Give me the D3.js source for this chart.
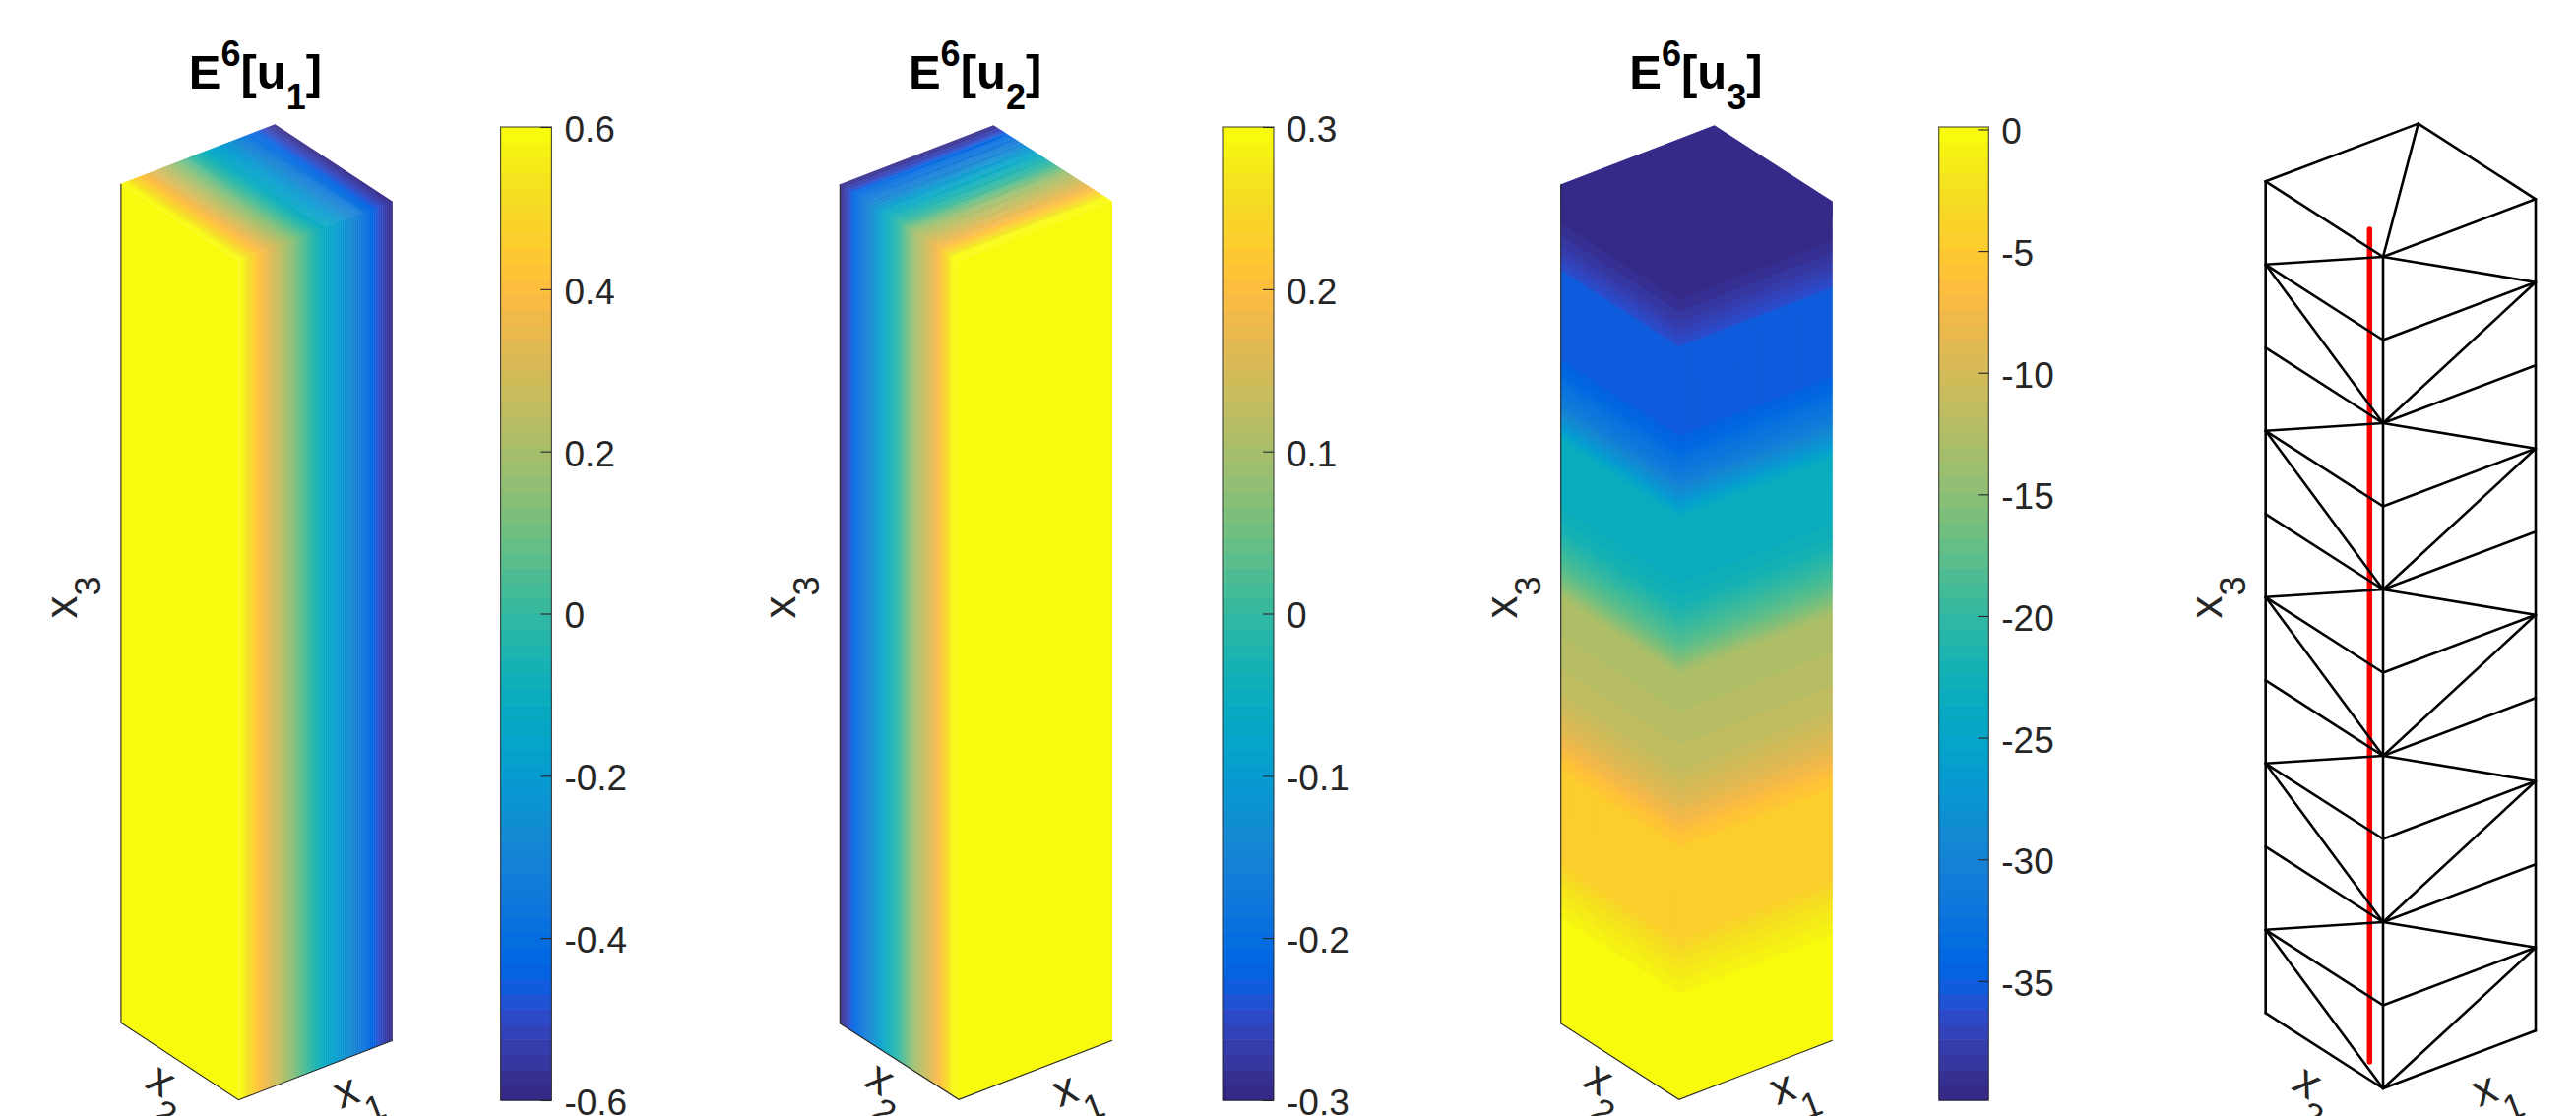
<!DOCTYPE html>
<html>
<head>
<meta charset="utf-8">
<script src="https://cdn.jsdelivr.net/npm/d3@7"></script>
<style>html,body{margin:0;padding:0;background:#fff;overflow:hidden}svg{display:block}</style>
</head>
<body>
<script>
// ---- colormap (64 levels) ----
const parula = [[.2081,.1663,.5292],[.2116,.1898,.5777],[.2123,.2138,.6270],[.2081,.2386,.6771],[.1959,.2645,.7279],[.1707,.2919,.7792],[.1253,.3242,.8303],[.0591,.3598,.8683],[.0117,.3875,.8820],[.0060,.4086,.8828],[.0165,.4266,.8786],[.0329,.4430,.8720],[.0498,.4586,.8641],[.0629,.4737,.8554],[.0723,.4887,.8467],[.0779,.5040,.8384],[.0793,.5200,.8312],[.0749,.5375,.8263],[.0641,.5570,.8240],[.0488,.5772,.8228],[.0343,.5966,.8199],[.0265,.6137,.8135],[.0239,.6287,.8038],[.0231,.6418,.7913],[.0228,.6535,.7768],[.0267,.6642,.7607],[.0384,.6743,.7436],[.0590,.6838,.7254],[.0843,.6928,.7062],[.1133,.7015,.6859],[.1453,.7098,.6646],[.1801,.7177,.6424],[.2178,.7250,.6193],[.2586,.7317,.5954],[.3022,.7376,.5712],[.3482,.7424,.5473],[.3953,.7459,.5244],[.4420,.7481,.5033],[.4871,.7491,.4840],[.5300,.7491,.4661],[.5709,.7485,.4494],[.6099,.7473,.4337],[.6473,.7456,.4188],[.6834,.7435,.4044],[.7184,.7411,.3905],[.7525,.7384,.3768],[.7858,.7356,.3633],[.8185,.7327,.3498],[.8507,.7299,.3360],[.8824,.7274,.3217],[.9139,.7258,.3063],[.9450,.7261,.2886],[.9739,.7314,.2666],[.9938,.7455,.2403],[.9990,.7653,.2164],[.9955,.7861,.1967],[.9880,.8066,.1794],[.9789,.8271,.1633],[.9697,.8481,.1475],[.9626,.8705,.1309],[.9589,.8949,.1132],[.9598,.9218,.0948],[.9661,.9514,.0755],[.9763,.9831,.0538]]
  .map(c => d3.rgb(c[0]*255, c[1]*255, c[2]*255).formatHex());

// ---- data ----
// E^6[u1] along x1 (front corner = 0, far edge = 1)
const u1Positions = [0, .02, .06, .123, .27, .40, .55, .69, .795, .88, .93, .98, 1];
const u1Values    = [.6, .6, .53, .43, .25, .08, -.12, -.24, -.35, -.46, -.52, -.58, -.6];
// E^6[u2] along x2
const u2Positions = [0, .05, .08, .157, .22, .38, .5, .63, .75, .888, .92, .98, 1];
const u2Values    = [.3, .3, .27, .205, .17, .09, 0, -.07, -.15, -.22, -.25, -.29, -.3];
// E^6[u3] along x3
const u3Positions = [0, .112, .126, .153, .176, .193, .30, .302, .317, .333, .349, .372, .396, .454, .505, .54, .591, .618, .695, .709, .739, .788, .80, .895, .901, .914, .923, .933, .947, .961, 1];
const u3Values    = [.1, .1, -.5, -1.6, -3, -4.5, -4.7, -5, -6.25, -7.5, -8.8, -10.05, -11.3, -12.3, -12.85, -17.7, -22.1, -23.1, -23.6, -26.6, -31, -34.8, -35.3, -35.3, -36.4, -37.1, -37.7, -38.4, -39, -39.65, -39.9];

const u1Ticks = [.6, .4, .2, 0, -.2, -.4, -.6];
const u2Ticks = [.3, .2, .1, 0, -.1, -.2, -.3];
const u3Ticks = [0, -5, -10, -15, -20, -25, -30, -35];
const u1Range = [-.6, .6];
const u2Range = [-.3, .3];
const u3Range = [-39.9, .1];
const titleSubs = ["1", "2", "3"];

// mesh of the fourth panel: [column, level, column, level]
const meshColumns = {L:[0,1], F:[0,0], R:[1,0], B:[1,1]};
const meshEdges = [
 ["L",0,"L",10],["F",0,"F",10],["R",0,"R",10],
 ["L",10,"B",10],["B",10,"R",10],["L",10,"F",10],["F",10,"R",10],["F",10,"B",10],
 ["L",9,"F",10],["F",10,"R",9],["L",9,"F",9],["F",9,"R",9],["L",9,"F",8],["R",9,"F",8],
 ["L",8,"F",8],["R",8,"F",8],
 ["L",7,"F",8],["F",8,"R",7],["L",7,"F",7],["F",7,"R",7],["L",7,"F",6],["R",7,"F",6],
 ["L",6,"F",6],["R",6,"F",6],
 ["L",5,"F",6],["F",6,"R",5],["L",5,"F",5],["F",5,"R",5],["L",5,"F",4],["R",5,"F",4],
 ["L",4,"F",4],["R",4,"F",4],
 ["L",3,"F",4],["F",4,"R",3],["L",3,"F",3],["F",3,"R",3],["L",3,"F",2],["R",3,"F",2],
 ["L",2,"F",2],["R",2,"F",2],
 ["L",1,"F",2],["F",2,"R",1],["L",1,"F",1],["F",1,"R",1],["L",1,"F",0],["R",1,"F",0],
 ["L",0,"F",0],["R",0,"F",0]
];
const probeLevels = [.0215, 1.0227];   // red line extent along x3 in the mesh panel
const probeColumn = [0, .1148];        // its position across the column

// ---- layout ----
const WIDTH = 2617, HEIGHT = 1134;
const TICK_FONT = 37, TITLE_FONT = 49, TITLE_SCRIPT = 36, LABEL_FONT = 46, LABEL_SUB = 36;
const INK = "#262626";
const layouts = [
 {F:[242.4,1117.7], R:[398.8,1057.3], L:[122.9,1039.3], H:852.6, bar:[508.6,560.4], titleX:259.5, x3:79,   x2:[-80,-17.7], x1:[110,-6]},
 {F:[974,1117.3],   R:[1130,1057.3],  L:[853.3,1040],   H:852.7, bar:[1242,1294],   titleX:990.6, x3:809, x2:[-81,-19],   x1:[108.7,-7]},
 {F:[1705.7,1117.3],R:[1861.7,1057.3],L:[1585.7,1040],  H:852.7, bar:[1969.7,2020.3],titleX:1723, x3:1541.7, x2:[-82.7,-19], x1:[106,-9]},
 {F:[2421,1106],    R:[2576,1047.3],  L:[2301.7,1029.3],H:845,   x3:2257.7, x2:[-78,-4], x1:[104,4]}
];
const BAR_TOP = 129, BAR_BOTTOM = 1118;

const svg = d3.select("body").append("svg").attr("width", WIDTH).attr("height", HEIGHT)
  .attr("viewBox", [0,0,WIDTH,HEIGHT]).style("font-family", "'Liberation Sans', Arial, sans-serif");

// projection of the column, from scales along each coordinate
function projector(g) {
  const x1x = d3.scaleLinear().domain([0,1]).range([0, g.R[0]-g.F[0]]);
  const x1y = d3.scaleLinear().domain([0,1]).range([0, g.R[1]-g.F[1]]);
  const x2x = d3.scaleLinear().domain([0,1]).range([0, g.L[0]-g.F[0]]);
  const x2y = d3.scaleLinear().domain([0,1]).range([0, g.L[1]-g.F[1]]);
  const zy  = d3.scaleLinear().domain([0,1]).range([0, -g.H]);
  return (a,b,z) => [g.F[0]+x1x(a)+x2x(b), g.F[1]+x1y(a)+x2y(b)+zy(z)];
}
const poly = pts => "M" + pts.map(p => p[0].toFixed(2)+","+p[1].toFixed(2)).join("L") + "Z";
const smoothColor = r => d3.scaleSequential(d3.piecewise(d3.interpolateRgb, parula)).domain(r);
const bandColor = r => d3.scaleQuantize().domain(r).range(parula);

// panel 1: field varies along x1
function drawX1Field(g, P, pos, vals, color) {
  const profile = d3.scaleLinear().domain(pos).range(vals);
  g.append("path").attr("d", poly([P(0,1,1),P(0,0,1),P(0,0,0),P(0,1,0)])).attr("fill", color(vals[0]));
  const n = 240, ts = d3.range(n);
  g.selectAll("path.s").data(ts).join("path").attr("class","s")
    .attr("d", i => { const a=i/n, b=Math.min(1,(i+1.6)/n);
      return poly([P(a,1,1),P(a,0,1),P(a,0,0),P(b,0,0),P(b,0,1),P(b,1,1)]); })
    .attr("fill", i => color(profile((i+.5)/n)));
}
// panel 2: field varies along x2
function drawX2Field(g, P, pos, vals, color) {
  const profile = d3.scaleLinear().domain(pos).range(vals);
  g.append("path").attr("d", poly([P(1,0,1),P(0,0,1),P(0,0,0),P(1,0,0)])).attr("fill", color(vals[0]));
  const n = 240, ts = d3.range(n);
  g.selectAll("path.s").data(ts).join("path").attr("class","s")
    .attr("d", i => { const a=i/n, b=Math.min(1,(i+1.6)/n);
      return poly([P(1,a,1),P(0,a,1),P(0,a,0),P(0,b,0),P(0,b,1),P(1,b,1)]); })
    .attr("fill", i => color(profile((i+.5)/n)));
}
// panel 3: field varies along x3
function drawX3Field(g, P, pos, vals, color) {
  const profile = d3.scaleLinear().domain(pos).range(vals);
  const n = 426, ts = d3.range(n);
  g.selectAll("path.s").data(ts).join("path").attr("class","s")
    .attr("d", i => { const a=i/n, b=Math.min(1,(i+1.6)/n);
      return poly([P(0,1,a),P(0,0,a),P(1,0,a),P(1,0,b),P(0,0,b),P(0,1,b)]); })
    .attr("fill", i => color(profile((i+.5)/n)));
  // top face, lapped over the uppermost strips (same colour) so no seam shows
  g.append("path").attr("d", poly([P(0,1,.98),P(0,0,.98),P(1,0,.98),P(1,0,1),P(1,1,1),P(0,1,1)])).attr("fill", color(vals[vals.length-1]));
}
function drawAxesLines(g, P) {
  g.append("path").attr("d", "M"+[P(0,1,1),P(0,1,0),P(0,0,0),P(1,0,0)].map(p=>p.join(",")).join("L"))
    .attr("fill","none").attr("stroke",INK).attr("stroke-width",1.1);
}
function drawColorbar(g, b, range, ticks) {
  const y = d3.scaleLinear().domain(range).range([BAR_BOTTOM, BAR_TOP]);
  const color = bandColor(range);
  const step = (range[1]-range[0])/64;
  g.selectAll("rect.c").data(d3.range(64)).join("rect").attr("class","c")
    .attr("x", b[0]).attr("width", b[1]-b[0])
    .attr("y", i => y(range[0]+(i+1)*step)).attr("height", i => y(range[0]+i*step)-y(range[0]+(i+1)*step)+.6)
    .attr("fill", i => color(range[0]+(i+.5)*step));
  g.append("rect").attr("x", b[0]).attr("y", BAR_TOP).attr("width", b[1]-b[0]).attr("height", BAR_BOTTOM-BAR_TOP)
    .attr("fill","none").attr("stroke",INK).attr("stroke-width",1.1).attr("stroke-opacity",.85);
  const axis = d3.axisRight(y).tickValues(ticks).tickFormat(d => String(d))
    .tickSizeInner(-11).tickSizeOuter(0).tickPadding(13);
  const ag = g.append("g").attr("transform", `translate(${b[1]},0)`).call(axis);
  ag.select(".domain").remove();
  ag.selectAll("line").attr("stroke",INK).attr("stroke-width",1.1);
  ag.selectAll("text").attr("fill",INK).attr("font-size",TICK_FONT).attr("font-family","'Liberation Sans', Arial, sans-serif")
    .attr("dy","0.39em");
}
function drawTitle(g, x, sub) {
  const t = g.append("text").attr("x", x).attr("y", 90).attr("text-anchor","middle")
    .attr("font-weight","bold").attr("font-size",TITLE_FONT).attr("fill","#000");
  t.append("tspan").text("E");
  t.append("tspan").attr("font-size",TITLE_SCRIPT).attr("dy",-23).text("6");
  t.append("tspan").attr("dy",23).text("[u");
  t.append("tspan").attr("font-size",TITLE_SCRIPT).attr("dy",21).text(sub);
  t.append("tspan").attr("dy",-21).text("]");
}
function axisLabel(g, cx, cy, angle, sub) {
  const t = g.append("text").attr("transform", `translate(${cx},${cy}) rotate(${angle})`)
    .attr("fill",INK).attr("font-size",LABEL_FONT);
  t.append("tspan").attr("x", -LABEL_FONT*.25).attr("y", LABEL_FONT*.26).text("x");
  t.append("tspan").attr("font-size",LABEL_SUB).attr("dy",24).text(sub);
}
function drawLabels(g, lay) {
  const a1 = Math.atan2(lay.R[1]-lay.F[1], lay.R[0]-lay.F[0])*180/Math.PI;
  const a2 = Math.atan2(lay.F[1]-lay.L[1], lay.F[0]-lay.L[0])*180/Math.PI;
  axisLabel(g, lay.F[0]+lay.x2[0], lay.F[1]+lay.x2[1], a2, "2");
  axisLabel(g, lay.F[0]+lay.x1[0], lay.F[1]+lay.x1[1], a1, "1");
  axisLabel(g, lay.x3-13, 617, -90, "3");
}

const fields = [
 {draw:drawX1Field, pos:u1Positions, vals:u1Values, range:u1Range, ticks:u1Ticks, color:smoothColor(u1Range)},
 {draw:drawX2Field, pos:u2Positions, vals:u2Values, range:u2Range, ticks:u2Ticks, color:smoothColor(u2Range)},
 {draw:drawX3Field, pos:u3Positions, vals:u3Values, range:u3Range, ticks:u3Ticks, color:bandColor(u3Range)}
];
fields.forEach((f,i) => {
  const lay = layouts[i], P = projector(lay);
  const g = svg.append("g");
  f.draw(g.append("g"), P, f.pos, f.vals, f.color);
  drawAxesLines(g, P);
  drawColorbar(g.append("g"), lay.bar, f.range, f.ticks);
  drawTitle(g, lay.titleX, titleSubs[i]);
  drawLabels(g, lay);
});

// panel 4: mesh and probe line
{
  const lay = layouts[3], P = projector(lay);
  const g = svg.append("g");
  const levels = d3.scaleLinear().domain([0,10]).range([0,1]);
  const a = P(probeColumn[0], probeColumn[1], probeLevels[0]), b = P(probeColumn[0], probeColumn[1], probeLevels[1]);
  g.append("line").attr("x1",a[0]).attr("y1",a[1]).attr("x2",b[0]).attr("y2",b[1])
    .attr("stroke","#ff0000").attr("stroke-width",5.5).attr("stroke-linecap","round");
  g.selectAll("line.e").data(meshEdges).join("line").attr("class","e")
    .each(function(e){
      const p = P(...meshColumns[e[0]], levels(e[1])), q = P(...meshColumns[e[2]], levels(e[3]));
      d3.select(this).attr("x1",p[0]).attr("y1",p[1]).attr("x2",q[0]).attr("y2",q[1]);
    })
    .attr("stroke","#000").attr("stroke-width",2.6).attr("stroke-linecap","round");
  drawLabels(g, lay);
}
</script>
</body>
</html>
